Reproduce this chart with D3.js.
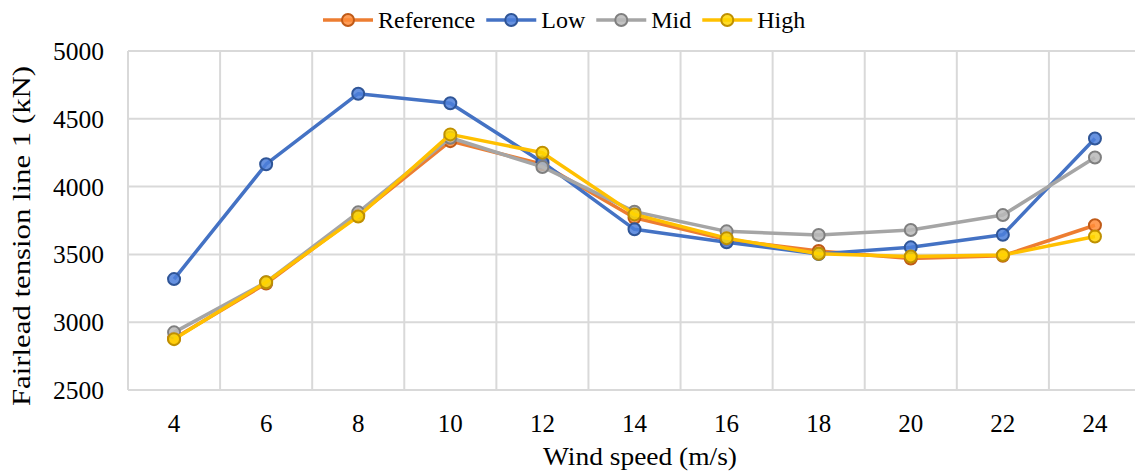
<!DOCTYPE html>
<html lang="en">

<head>
    <meta charset="UTF-8" />
    <title>Fairlead tension</title>
    <script src="https://d3js.org/d3.v7.js"></script>
</head>

<body style="margin:0">
    <svg id="chart"></svg>
</body>

<script>
// wind speeds (m/s)
var windSpeeds = [4, 6, 8, 10, 12, 14, 16, 18, 20, 22, 24];
var yTicks = [2500, 3000, 3500, 4000, 4500, 5000];

// fairlead tension line 1 (kN)
var reference = [2880, 3285, 3790, 4335, 4165, 3770, 3610, 3525, 3470, 3490, 3715];
var low       = [3318, 4165, 4685, 4615, 4180, 3685, 3590, 3503, 3552, 3645, 4355];
var mid       = [2925, 3295, 3810, 4360, 4145, 3815, 3670, 3643, 3680, 3790, 4215];
var high      = [2875, 3295, 3780, 4385, 4250, 3795, 3620, 3505, 3485, 3495, 3632];

var seriesNames = ["Reference", "Low", "Mid", "High"];
var seriesValues = [reference, low, mid, high];
var lineColors = ["#ED7D31", "#4472C4", "#A5A5A5", "#FFC000"];
var edgeColors = ["#C05A17", "#2F5597", "#7F7F7F", "#BF9000"];

var width = 1135, height = 472;
var margin = { top: 51, right: -6, bottom: 82, left: 128 };
var FONT = "Liberation Serif";

var svg = d3.select("#chart")
    .attr("width", width)
    .attr("height", height);

var x = d3.scaleBand()
    .domain(windSpeeds)
    .range([margin.left, width - margin.right]);

var y = d3.scaleLinear()
    .domain([2500, 5000])
    .range([height - margin.bottom, margin.top]);

// pin the width of a label to its measured length
function fixLength(sel, scale) {
    sel.each(function () {
        var w = this.getComputedTextLength() * (scale || 1);
        d3.select(this)
            .attr("textLength", w)
            .attr("lengthAdjust", "spacingAndGlyphs");
    });
}

// horizontal grid
svg.append("g")
    .selectAll("line")
    .data(yTicks)
    .enter()
    .append("line")
    .attr("x1", margin.left)
    .attr("x2", width - margin.right)
    .attr("y1", d => y(d))
    .attr("y2", d => y(d))
    .attr("stroke", "#d9d9d9")
    .attr("stroke-width", 2);

// vertical grid on category boundaries
svg.append("g")
    .selectAll("line")
    .data(windSpeeds)
    .enter()
    .append("line")
    .attr("x1", d => x(d))
    .attr("x2", d => x(d))
    .attr("y1", y(5000))
    .attr("y2", y(2500))
    .attr("stroke", "#d9d9d9")
    .attr("stroke-width", 2);

// y tick labels
svg.append("g")
    .selectAll("text")
    .data(yTicks)
    .enter()
    .append("text")
    .attr("x", 104)
    .attr("y", d => y(d))
    .attr("dy", "0.35em")
    .attr("text-anchor", "end")
    .attr("font-family", FONT)
    .attr("font-size", 25.5)
    .text(d => d)
    .call(fixLength);

// x tick labels
svg.append("g")
    .selectAll("text")
    .data(windSpeeds)
    .enter()
    .append("text")
    .attr("x", d => x(d) + x.bandwidth() / 2)
    .attr("y", 423)
    .attr("dy", "0.35em")
    .attr("text-anchor", "middle")
    .attr("font-family", FONT)
    .attr("font-size", 25)
    .text(d => d)
    .call(fixLength);

// axis titles (Excel spreads them a little wider than the font does)
svg.append("text")
    .attr("x", 640)
    .attr("y", 456)
    .attr("dy", "0.35em")
    .attr("text-anchor", "middle")
    .attr("font-family", FONT)
    .attr("font-size", 26)
    .attr("textLength", 194)
    .attr("lengthAdjust", "spacingAndGlyphs")
    .text("Wind speed (m/s)");

svg.append("text")
    .attr("transform", "translate(21,236) rotate(-90)")
    .attr("dy", "0.35em")
    .attr("text-anchor", "middle")
    .attr("font-family", FONT)
    .attr("font-size", 26)
    .attr("textLength", 340)
    .attr("lengthAdjust", "spacingAndGlyphs")
    .text("Fairlead tension line 1 (kN)");

var line = d3.line()
    .x((d, i) => x(windSpeeds[i]) + x.bandwidth() / 2)
    .y(d => y(d));

// series lines + markers
seriesValues.forEach(function (vals, s) {
    var g = svg.append("g");
    g.append("path")
        .datum(vals)
        .attr("d", line)
        .attr("fill", "none")
        .attr("stroke", lineColors[s])
        .attr("stroke-width", 3.5)
        .attr("stroke-linejoin", "round");
    g.selectAll("circle")
        .data(vals)
        .enter()
        .append("circle")
        .attr("cx", (d, i) => x(windSpeeds[i]) + x.bandwidth() / 2)
        .attr("cy", d => y(d))
        .attr("r", 6)
        .attr("fill", d3.color(lineColors[s]).brighter(0.3))
        .attr("fill-opacity", 0.85)
        .attr("stroke", edgeColors[s])
        .attr("stroke-width", 2);
});

// legend
var legend = svg.append("g");
var lx = 323;
seriesNames.forEach(function (name, s) {
    var item = legend.append("g").attr("transform", "translate(" + lx + ",20)");
    item.append("line")
        .attr("x1", 0).attr("x2", 50)
        .attr("stroke", lineColors[s])
        .attr("stroke-width", 3.5);
    item.append("circle")
        .attr("cx", 25).attr("r", 6)
        .attr("fill", d3.color(lineColors[s]).brighter(0.3))
        .attr("fill-opacity", 0.85)
        .attr("stroke", edgeColors[s])
        .attr("stroke-width", 2);
    var t = item.append("text")
        .attr("x", 55)
        .attr("dy", "0.35em")
        .attr("font-family", FONT)
        .attr("font-size", 24)
        .text(name);
    var w = t.node().getComputedTextLength();
    t.call(fixLength);
    lx += 55 + w + 11;
});
</script>

</html>
